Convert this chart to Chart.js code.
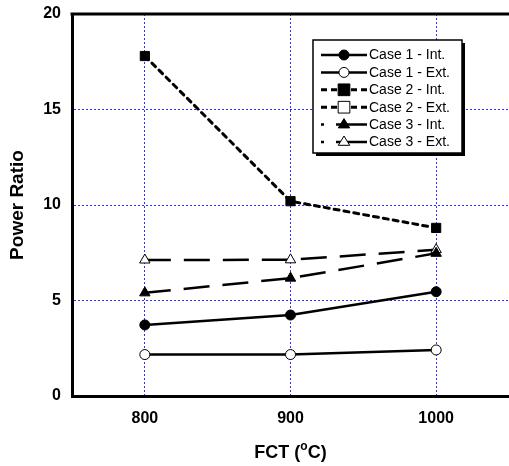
<!DOCTYPE html>
<html>
<head>
<meta charset="utf-8">
<script src="https://cdn.jsdelivr.net/npm/chart.js@4"></script>
<style>
  html, body { margin: 0; padding: 0; background: #fff; }
  #wrap { width: 509px; height: 466px; }
</style>
</head>
<body>
<div id="wrap"><canvas id="powerCtx" width="509" height="466"></canvas></div>
<script>
// FCT temperatures (x) and power ratio per case
const fct = [800, 900, 1000];
const xTicks = [800, 900, 1000];
const yTicks = [0, 5, 10, 15, 20];

const case1Int = [3.72, 4.24, 5.46];
const case1Ext = [2.17, 2.17, 2.41];
const case2Int = [17.8, 10.2, 8.8];
const case2Ext = [null, null, null];
const case3Int = [5.4, 6.17, 7.47];
const case3Ext = [7.12, 7.13, 7.66];

const seriesNames = ['Case 1 - Int.', 'Case 1 - Ext.', 'Case 2 - Int.', 'Case 2 - Ext.', 'Case 3 - Int.', 'Case 3 - Ext.'];

const FONT = 'Arial, "Liberation Sans", sans-serif';

function points(values) {
    return fct.map((x, i) => ({ x: x, y: values[i] }));
}

function series(label, values, style) {
    return Object.assign({
        label: label,
        data: points(values),
        borderColor: '#000',
        pointBorderColor: '#000',
        pointBorderWidth: 1,
        tension: 0,
        spanGaps: false
    }, style);
}

const datasets = [
    series(seriesNames[0], case1Int, { borderWidth: 2.5, pointStyle: 'circle', pointRadius: 5, pointBackgroundColor: '#000' }),
    series(seriesNames[1], case1Ext, { borderWidth: 2.5, pointStyle: 'circle', pointRadius: 5, pointBackgroundColor: '#fff' }),
    series(seriesNames[2], case2Int, { borderWidth: 3, borderDash: [5, 5], borderCapStyle: 'round', pointStyle: 'rect', pointRadius: 6.5, pointBackgroundColor: '#000' }),
    series(seriesNames[3], case2Ext, { borderWidth: 3, borderDash: [5, 5], pointStyle: 'rect', pointRadius: 6.5, pointBackgroundColor: '#fff' }),
    series(seriesNames[4], case3Int, { borderWidth: 2.5, borderDash: [26, 13], pointStyle: 'triangle', pointRadius: 6, pointBackgroundColor: '#000' }),
    series(seriesNames[5], case3Ext, { borderWidth: 2.5, borderDash: [26, 13], pointStyle: 'triangle', pointRadius: 6, pointBackgroundColor: '#fff' })
];

// top frame line, x title with superscript, boxed legend with drop shadow
const framePlugin = {
    id: 'frame',
    afterDraw(chart) {
        const ctx = chart.ctx;
        const a = chart.chartArea;
        ctx.save();
        ctx.strokeStyle = '#000';
        ctx.lineWidth = 3;
        ctx.beginPath();
        ctx.moveTo(a.left - 1.5, a.top);
        ctx.lineTo(a.right, a.top);
        ctx.stroke();

        // x axis title: FCT (oC) with raised o
        const big = 'bold 18px ' + FONT, small = 'bold 12px ' + FONT;
        const parts = [['FCT (', big, 0], ['o', small, -8], ['C)', big, 0]];
        let total = 0;
        parts.forEach(p => { ctx.font = p[1]; total += ctx.measureText(p[0]).width; });
        let tx = (a.left + a.right) / 2 - total / 2;
        ctx.fillStyle = '#000';
        ctx.textBaseline = 'alphabetic';
        ctx.textAlign = 'left';
        parts.forEach(p => {
            ctx.font = p[1];
            ctx.fillText(p[0], tx, 458 + p[2]);
            tx += ctx.measureText(p[0]).width;
        });

        // legend box
        const bx = 313, by = 40, bw = 149, bh = 113;
        ctx.fillStyle = '#000';
        ctx.fillRect(bx + 3, by + 3, bw, bh);
        ctx.fillStyle = '#fff';
        ctx.fillRect(bx, by, bw, bh);
        ctx.lineWidth = 1.5;
        ctx.strokeRect(bx, by, bw, bh);

        const rowH = 17.4;
        const x0 = 321, x1 = 367, xm = 344;
        chart.data.datasets.forEach((ds, i) => {
            const y = 55 + i * rowH;
            ctx.save();
            ctx.strokeStyle = '#000';
            ctx.lineWidth = ds.borderWidth;
            if (i >= 4) {
                ctx.setLineDash([]);
                ctx.beginPath();
                ctx.moveTo(x0, y); ctx.lineTo(x0 + 3, y);
                ctx.moveTo(x0 + 15, y); ctx.lineTo(x1, y);
                ctx.stroke();
            } else {
                ctx.setLineDash(ds.borderDash ? [6, 4] : []);
                ctx.beginPath();
                ctx.moveTo(x0, y); ctx.lineTo(x1, y);
                ctx.stroke();
            }
            ctx.setLineDash([]);
            ctx.lineWidth = 1;
            ctx.fillStyle = ds.pointBackgroundColor;
            ctx.strokeStyle = '#000';
            const r = ds.pointRadius;
            ctx.beginPath();
            if (ds.pointStyle === 'circle') {
                ctx.arc(xm, y, r, 0, Math.PI * 2);
            } else if (ds.pointStyle === 'rect') {
                const s = r * 0.9;
                ctx.rect(xm - s, y - s, s * 2, s * 2);
            } else {
                ctx.moveTo(xm, y - r);
                ctx.lineTo(xm + r * 0.95, y + r * 0.55);
                ctx.lineTo(xm - r * 0.95, y + r * 0.55);
                ctx.closePath();
            }
            ctx.fill();
            ctx.stroke();
            ctx.restore();

            ctx.fillStyle = '#000';
            ctx.font = '14px ' + FONT;
            ctx.textBaseline = 'middle';
            ctx.textAlign = 'left';
            ctx.fillText(ds.label, 369, y + 0.5);
        });
        ctx.restore();
    }
};

new Chart(document.getElementById('powerCtx'), {
    type: 'line',
    data: { datasets: datasets },
    options: {
        responsive: false,
        animation: false,
        layout: { autoPadding: false, padding: { top: 14, right: 0, left: 0, bottom: 0 } },
        plugins: {
            legend: { display: false },
            tooltip: { enabled: false }
        },
        scales: {
            x: {
                type: 'linear',
                min: 750,
                max: 1050,
                afterBuildTicks: axis => { axis.ticks = xTicks.map(v => ({ value: v })); },
                afterFit: axis => { axis.height = 70; axis.paddingLeft = 0; axis.paddingRight = 0; },
                grid: { color: '#2f2fff', lineWidth: 1, drawTicks: false },
                border: { color: '#000', width: 3, dash: [2, 2] },
                ticks: {
                    color: '#000',
                    font: { family: FONT, size: 16, weight: 'bold' },
                    padding: 13,
                    callback: value => String(value)
                },
                title: { display: false }
            },
            y: {
                min: 0,
                max: 20,
                afterBuildTicks: axis => { axis.ticks = yTicks.map(v => ({ value: v })); },
                afterFit: axis => { axis.width = 72; axis.paddingTop = 0; axis.paddingBottom = 0; },
                grid: { color: '#2f2fff', lineWidth: 1, drawTicks: false },
                border: { color: '#000', width: 3, dash: [2, 2] },
                ticks: { color: '#000', font: { family: FONT, size: 16, weight: 'bold' }, padding: 11 },
                title: {
                    display: true,
                    text: 'Power Ratio',
                    color: '#000',
                    font: { family: FONT, size: 19, weight: 'bold' },
                    padding: { top: 6, bottom: 2 }
                }
            }
        }
    },
    plugins: [framePlugin]
});
</script>
</body>
</html>
